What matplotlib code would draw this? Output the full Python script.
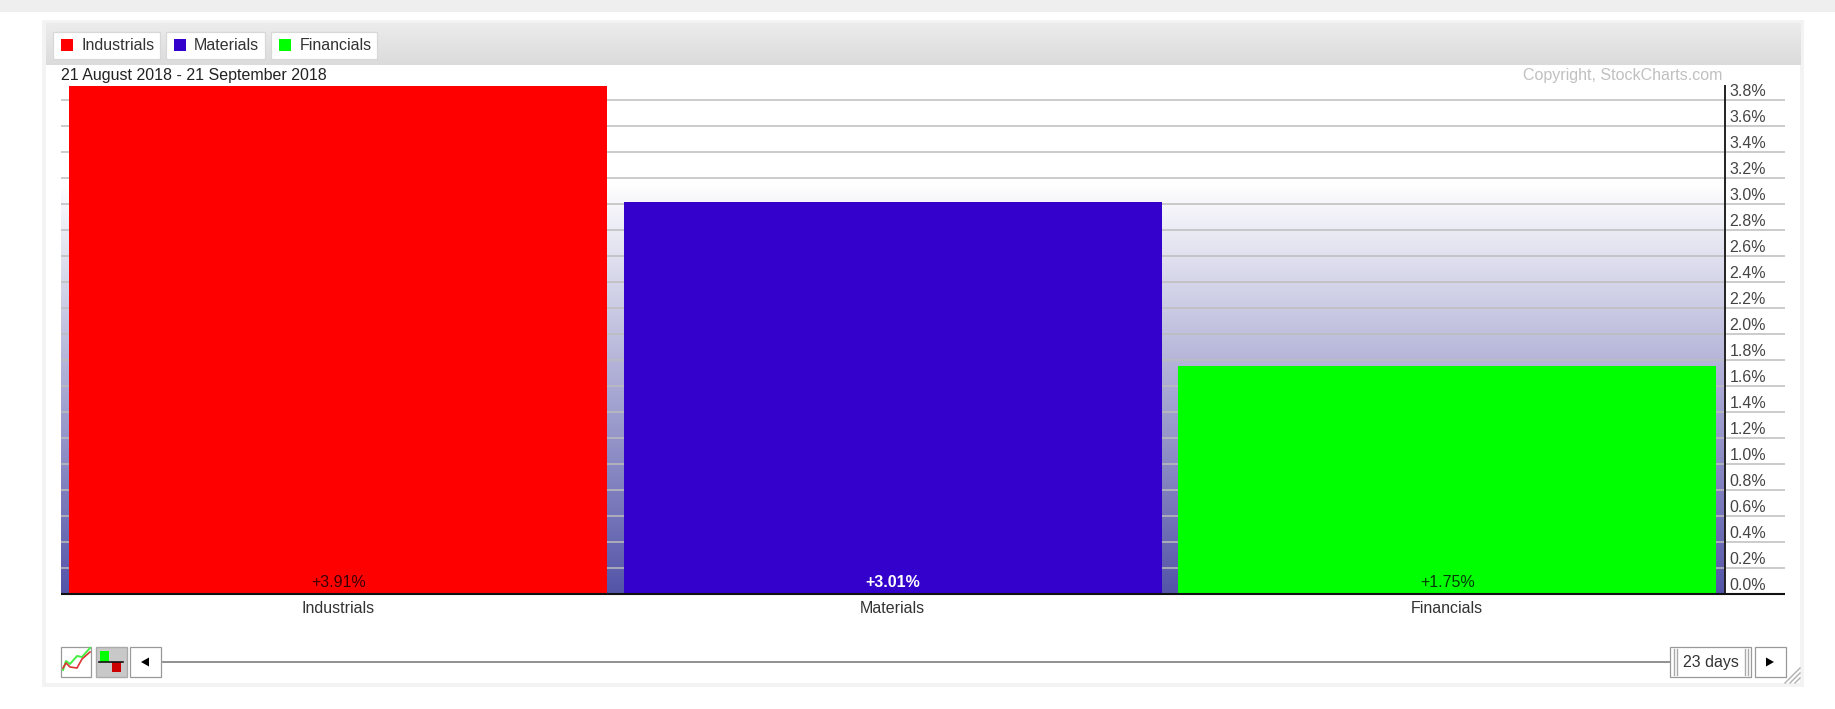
import numpy as np
import matplotlib

matplotlib.use("Agg")
import matplotlib.pyplot as plt
from matplotlib.patches import Rectangle, Polygon
from matplotlib.transforms import ScaledTranslation

plt.rcParams["font.family"] = ["Liberation Sans", "DejaVu Sans"]

# Data
sectors = ["Industrials", "Materials", "Financials"]
changes = [3.91, 3.01, 1.75]
bar_labels = ["+3.91%", "+3.01%", "+1.75%"]
bar_colors = ["#ff0000", "#3300cc", "#00ff00"]
label_colors = ["#3a0000", "#ffffff", "#003a00"]
label_weights = ["normal", "bold", "normal"]
y_ticks = [0.0, 0.2, 0.4, 0.6, 0.8, 1.0, 1.2, 1.4, 1.6, 1.8, 2.0,
           2.2, 2.4, 2.6, 2.8, 3.0, 3.2, 3.4, 3.6, 3.8]
y_tick_labels = [f"{v:.1f}%" for v in y_ticks]
date_range = "21 August 2018 - 21 September 2018"
copyright_text = "Copyright, StockCharts.com"
days_text = "23 days"

W, H = 1835, 709
FS = 11.5
PX_PER_UNIT = 130.1
fig = plt.figure(figsize=(W / 100, H / 100), dpi=100, facecolor="white")

# Page furniture, in pixel coordinates
bg = fig.add_axes([0, 0, 1, 1], zorder=0)
bg.set_xlim(0, W)
bg.set_ylim(H, 0)
bg.axis("off")


def box(ax, x0, y0, x1, y1, fc, ec="none", lw=1.0, z=1):
    ax.add_patch(Rectangle((x0, y0), x1 - x0, y1 - y0, fc=fc, ec=ec, lw=lw, zorder=z))


def button(ax, x0, y0, x1, y1, fc="#ffffff", ec="#bbbbbb"):
    box(ax, x0 + 1.5, y0 + 1.5, x1 + 1, y1 + 1, "#808080", z=3)
    box(ax, x0, y0, x1, y1, fc, ec=ec, lw=0.9, z=4)


box(bg, 0, 0, W, 12, "#efefef")
box(bg, 42, 20, 1804, 687, "#f3f3f3")
box(bg, 46, 24, 1800, 683, "#ffffff")
head = np.linspace(0.925, 0.86, 64)[:, None, None] * np.ones((64, 1, 3))
bg.imshow(head, extent=(46, 1800, 65.5, 24), aspect="auto", zorder=2)
bg.set_xlim(0, W)
bg.set_ylim(H, 0)

legend_boxes = [(53, 160), (166, 265), (271, 377)]
legend_text_x = [81, 194, 300]
for (x0, x1), tx, name, c in zip(legend_boxes, legend_text_x, sectors, bar_colors):
    button(bg, x0, 31.5, x1, 59, ec="#d8d8d8")
    box(bg, x0 + 8, 39, x0 + 20, 51, c, z=5)
    bg.text(tx, 45.5, name, fontsize=FS, color="#333333", va="center", ha="left", zorder=6)

bg.text(61, 75.5, date_range, fontsize=FS, color="#222222", va="center", ha="left", zorder=6)
bg.text(1722, 75.5, copyright_text, fontsize=FS, color="#c0c0c0", va="center", ha="right", zorder=6)

# Chart area
plot = fig.add_axes([61 / W, 1 - 594 / H, 1663.5 / W, 508.5 / H], zorder=1)
plot.patch.set_alpha(0)
plot.set_xlim(-0.5, 2.5)
plot.set_ylim(0, 508.5 / PX_PER_UNIT)

# Background fade behind the bars
fade = np.linspace(0, 1, 256)[:, None, None]
white = np.array([1.0, 1.0, 1.0])
blue = np.array([0.33, 0.33, 0.66])
grad = white + np.clip((fade - 0.19) / 0.81, 0, 1) * (blue - white)
plot.imshow(grad, extent=(-0.5, 2.5, 0, 508.5 / PX_PER_UNIT), aspect="auto", zorder=0)

x_right = 2.5 + 60.5 / (1663.5 / 3)
plot.hlines(y_ticks[1:], -0.5, x_right, color="#bdbdbd", lw=1.1, clip_on=False, zorder=1)
plot.hlines(0, -0.5, x_right, color="#111111", lw=1.5, clip_on=False, zorder=4)

x = np.arange(len(sectors))
plot.bar(x, changes, width=0.97, color=bar_colors, zorder=2)

for xi, lab, c, w in zip(x, bar_labels, label_colors, label_weights):
    plot.text(xi, 0.09, lab, ha="center", va="center", fontsize=FS, color=c, weight=w, zorder=3)

for s in ["top", "left", "bottom"]:
    plot.spines[s].set_visible(False)
plot.spines["right"].set_color("#222222")
plot.spines["right"].set_linewidth(1.4)
plot.yaxis.tick_right()
plot.set_yticks(y_ticks)
plot.set_yticklabels(y_tick_labels, va="bottom", color="#444444", fontsize=FS)
plot.tick_params(axis="y", length=0, pad=3.5)
up = ScaledTranslation(0, 0.5 / 100, fig.dpi_scale_trans)
for lab in plot.get_yticklabels():
    lab.set_transform(lab.get_transform() + up)
plot.set_xticks(x)
plot.set_xticklabels(sectors, fontsize=FS, color="#333333")
plot.tick_params(axis="x", length=0, pad=5)

# Bottom toolbar
over = fig.add_axes([0, 0, 1, 1], zorder=2)
over.set_xlim(0, W)
over.set_ylim(H, 0)
over.axis("off")
over.patch.set_alpha(0)

button(over, 61, 647, 91, 676.5, ec="#999999")
icon_x = [63, 66, 70, 77, 82, 90]
over.plot(icon_x, [670, 661, 664, 656, 657, 648], color="#44ee44", lw=1.4, zorder=6)
over.plot(icon_x, [668, 663, 667, 668, 659, 652], color="#dd3333", lw=1.2, zorder=6)

box(over, 96, 647, 126.5, 677, "#c8c8c8", ec="#aaaaaa", z=4)
box(over, 100, 651, 109, 662, "#00ff00", z=5)
box(over, 112, 662, 121, 672, "#cc0000", z=5)
over.plot([99, 123], [662, 662], color="#111111", lw=1.2, zorder=6)

button(over, 130, 647, 161, 676.5, ec="#999999")
over.add_patch(Polygon([[141, 662], [149, 657.5], [149, 666.5]], fc="black", zorder=6))

over.plot([163, 1670], [662, 662], color="#888888", lw=1.3, zorder=3)

button(over, 1670, 647, 1751, 676.5, ec="#999999")
for gx in [1674, 1677, 1745, 1748]:
    over.plot([gx, gx], [649, 675], color="#aaaaaa", lw=1.0, zorder=6)
over.text(1711, 662, days_text, fontsize=FS, color="#333333", ha="center", va="center", zorder=6)

button(over, 1755, 647, 1786, 676.5, ec="#999999")
over.add_patch(Polygon([[1774, 662], [1766, 657.5], [1766, 666.5]], fc="black", zorder=6))

for off in [0, 5, 10]:
    over.plot([1785 + off, 1800], [683, 668 + off], color="#b0b0b0", lw=1.0, zorder=6)

fig.savefig("out.png", dpi=100)
